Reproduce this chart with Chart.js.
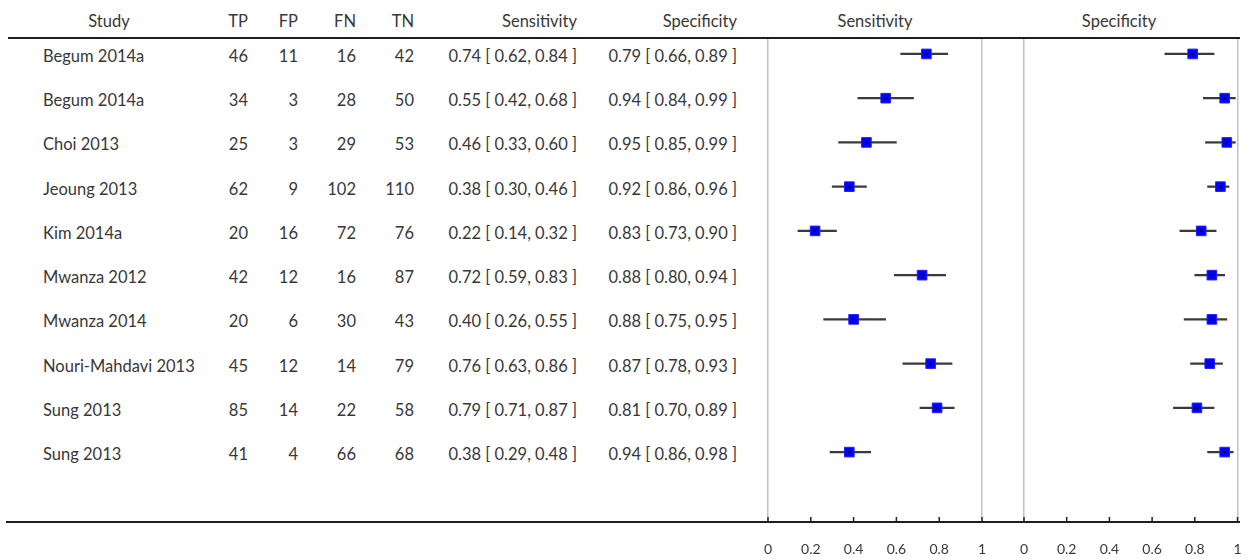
<!DOCTYPE html>
<html><head><meta charset="utf-8">
<script src="https://cdn.jsdelivr.net/npm/chart.js@4.4.1/dist/chart.umd.min.js"></script>
<style>
html,body{margin:0;padding:0;background:#fff;}
#wrap{position:relative;width:1257px;height:559px;overflow:hidden;font-family:Lato,"Open Sans",sans-serif;color:#383838;font-size:16.5px;}
.t{position:absolute;white-space:nowrap;height:20px;line-height:20px;}
.hline{position:absolute;height:2px;background:#1e1e1e;}
canvas{position:absolute;}
</style></head>
<body><div id="wrap">
<canvas id="c1" width="234" height="521" style="left:758px;top:38px"></canvas>
<canvas id="c2" width="243" height="521" style="left:1014px;top:38px"></canvas>
</div>
<script>
const studies = ["Begum 2014a","Begum 2014a","Choi 2013","Jeoung 2013","Kim 2014a","Mwanza 2012","Mwanza 2014","Nouri-Mahdavi 2013","Sung 2013","Sung 2013"];
const tp = [46,34,25,62,20,42,20,45,85,41];
const fp = [11,3,3,9,16,12,6,12,14,4];
const fn = [16,28,29,102,72,16,30,14,22,66];
const tn = [42,50,53,110,76,87,43,79,58,68];
const sensEst = [0.74,0.55,0.46,0.38,0.22,0.72,0.40,0.76,0.79,0.38];
const sensLo  = [0.62,0.42,0.33,0.30,0.14,0.59,0.26,0.63,0.71,0.29];
const sensHi  = [0.84,0.68,0.60,0.46,0.32,0.83,0.55,0.86,0.87,0.48];
const specEst = [0.79,0.94,0.95,0.92,0.83,0.88,0.88,0.87,0.81,0.94];
const specLo  = [0.66,0.84,0.85,0.86,0.73,0.80,0.75,0.78,0.70,0.86];
const specHi  = [0.89,0.99,0.99,0.96,0.90,0.94,0.95,0.93,0.89,0.98];
const axisTicks = [0,0.2,0.4,0.6,0.8,1];
const tickLabels = ["0","0.2","0.4","0.6","0.8","1"];
const tableHeaders = ["Study","TP","FP","FN","TN","Sensitivity","Specificity"];
const panelTitles = ["Sensitivity","Specificity"];

const upTicks = {
  id:'upTicks',
  afterDraw(chart){
    const s = chart.scales.x, ctx = chart.ctx, b = chart.chartArea.bottom;
    ctx.save(); ctx.strokeStyle = '#222'; ctx.lineWidth = 1.5;
    s.ticks.forEach(t => { const x = s.getPixelForValue(t.value);
      ctx.beginPath(); ctx.moveTo(x, b); ctx.lineTo(x, b - 5); ctx.stroke(); });
    ctx.restore();
  }
};

function makeChart(id, est, lo, hi, padRight){
  return new Chart(document.getElementById(id), {
    type: 'bar',
    data: { datasets: [
      { type:'scatter', data: est.map((v,i)=>({x:v,y:i})), pointStyle:'circle', pointRadius:1.2,
        backgroundColor:'#000', borderWidth:0, order:1, clip:false },
      { type:'scatter', data: est.map((v,i)=>({x:v,y:i})), pointStyle:'rect', pointRadius:6.8,
        backgroundColor:'#0000ff', borderColor:'#2020ff', borderWidth:1, order:2, clip:false },
      { type:'bar', indexAxis:'y', data: lo.map((v,i)=>({y:i,x:[v,hi[i]]})), barThickness:1.6,
        backgroundColor:'#3a3a3a', borderWidth:0, grouped:false, order:3, clip:false }
    ]},
    options: {
      indexAxis:'y', responsive:false, animation:false, events:[],
      layout:{ autoPadding:false, padding:{ left:10, right:padRight, top:0, bottom:0 } },
      plugins:{ legend:{display:false}, tooltip:{enabled:false} },
      scales:{
        x:{ type:'linear', min:0, max:1, position:'bottom', offset:false, beginAtZero:false,
          afterBuildTicks: s => { s.ticks = axisTicks.map(v=>({value:v})); },
          afterFit: s => { s.height = 37; s.paddingLeft = 0; s.paddingRight = 0; },
          border:{display:false},
          grid:{ offset:false, drawTicks:false, lineWidth:1.5,
            color: c => (c.tick && (c.tick.value===0 || c.tick.value===1)) ? '#c2c2c2' : 'rgba(0,0,0,0)' },
          ticks:{ padding:19, color:'#383838', font:{family:'Lato', size:14}, maxRotation:0, autoSkip:false,
            callback:(v,i)=>tickLabels[i] } },
        y:{ type:'linear', reverse:true, min:-0.36, max:10.58, display:false, offset:false, grid:{offset:false} }
      }
    },
    plugins:[upTicks]
  });
}
const ch1 = makeChart('c1', sensEst, sensLo, sensHi, 10);
const ch2 = makeChart('c2', specEst, specLo, specHi, 19.5);

const wrap = document.getElementById('wrap');
function addText(txt, y, opts){
  const d = document.createElement('div'); d.className='t'; d.textContent = txt;
  d.style.top = (y - 10) + 'px';
  if (opts.left!==undefined) d.style.left = opts.left + 'px';
  if (opts.right!==undefined) d.style.right = (1257 - opts.right) + 'px';
  if (opts.center!==undefined){ d.style.left = (opts.center - 100) + 'px'; d.style.width='200px'; d.style.textAlign='center'; }
  wrap.appendChild(d);
}
function addLine(x, y, w){
  const d = document.createElement('div'); d.className='hline';
  d.style.left = x+'px'; d.style.top = y+'px'; d.style.width = w+'px'; wrap.appendChild(d);
}
const colRight = [null,248,298,356,414,577,737];
const fmt = (e,l,h)=>`${e.toFixed(2)} [ ${l.toFixed(2)}, ${h.toFixed(2)} ]`;
const headY = 21;
addText(tableHeaders[0], headY, {center:109});
for (let k=1;k<tableHeaders.length;k++) addText(tableHeaders[k], headY, {right:colRight[k]});
addText(panelTitles[0], headY, {center:875});
addText(panelTitles[1], headY, {center:1119});
const canvasTop = 38;
studies.forEach((s,i)=>{
  const y = canvasTop + ch1.scales.y.getPixelForValue(i) + 2;
  addText(s, y, {left:43});
  addText(String(tp[i]), y, {right:colRight[1]});
  addText(String(fp[i]), y, {right:colRight[2]});
  addText(String(fn[i]), y, {right:colRight[3]});
  addText(String(tn[i]), y, {right:colRight[4]});
  addText(fmt(sensEst[i],sensLo[i],sensHi[i]), y, {right:colRight[5]});
  addText(fmt(specEst[i],specLo[i],specHi[i]), y, {right:colRight[6]});
});
addLine(8, 37, 1232);
addLine(6, 521, 1234);
</script>
</body></html>
